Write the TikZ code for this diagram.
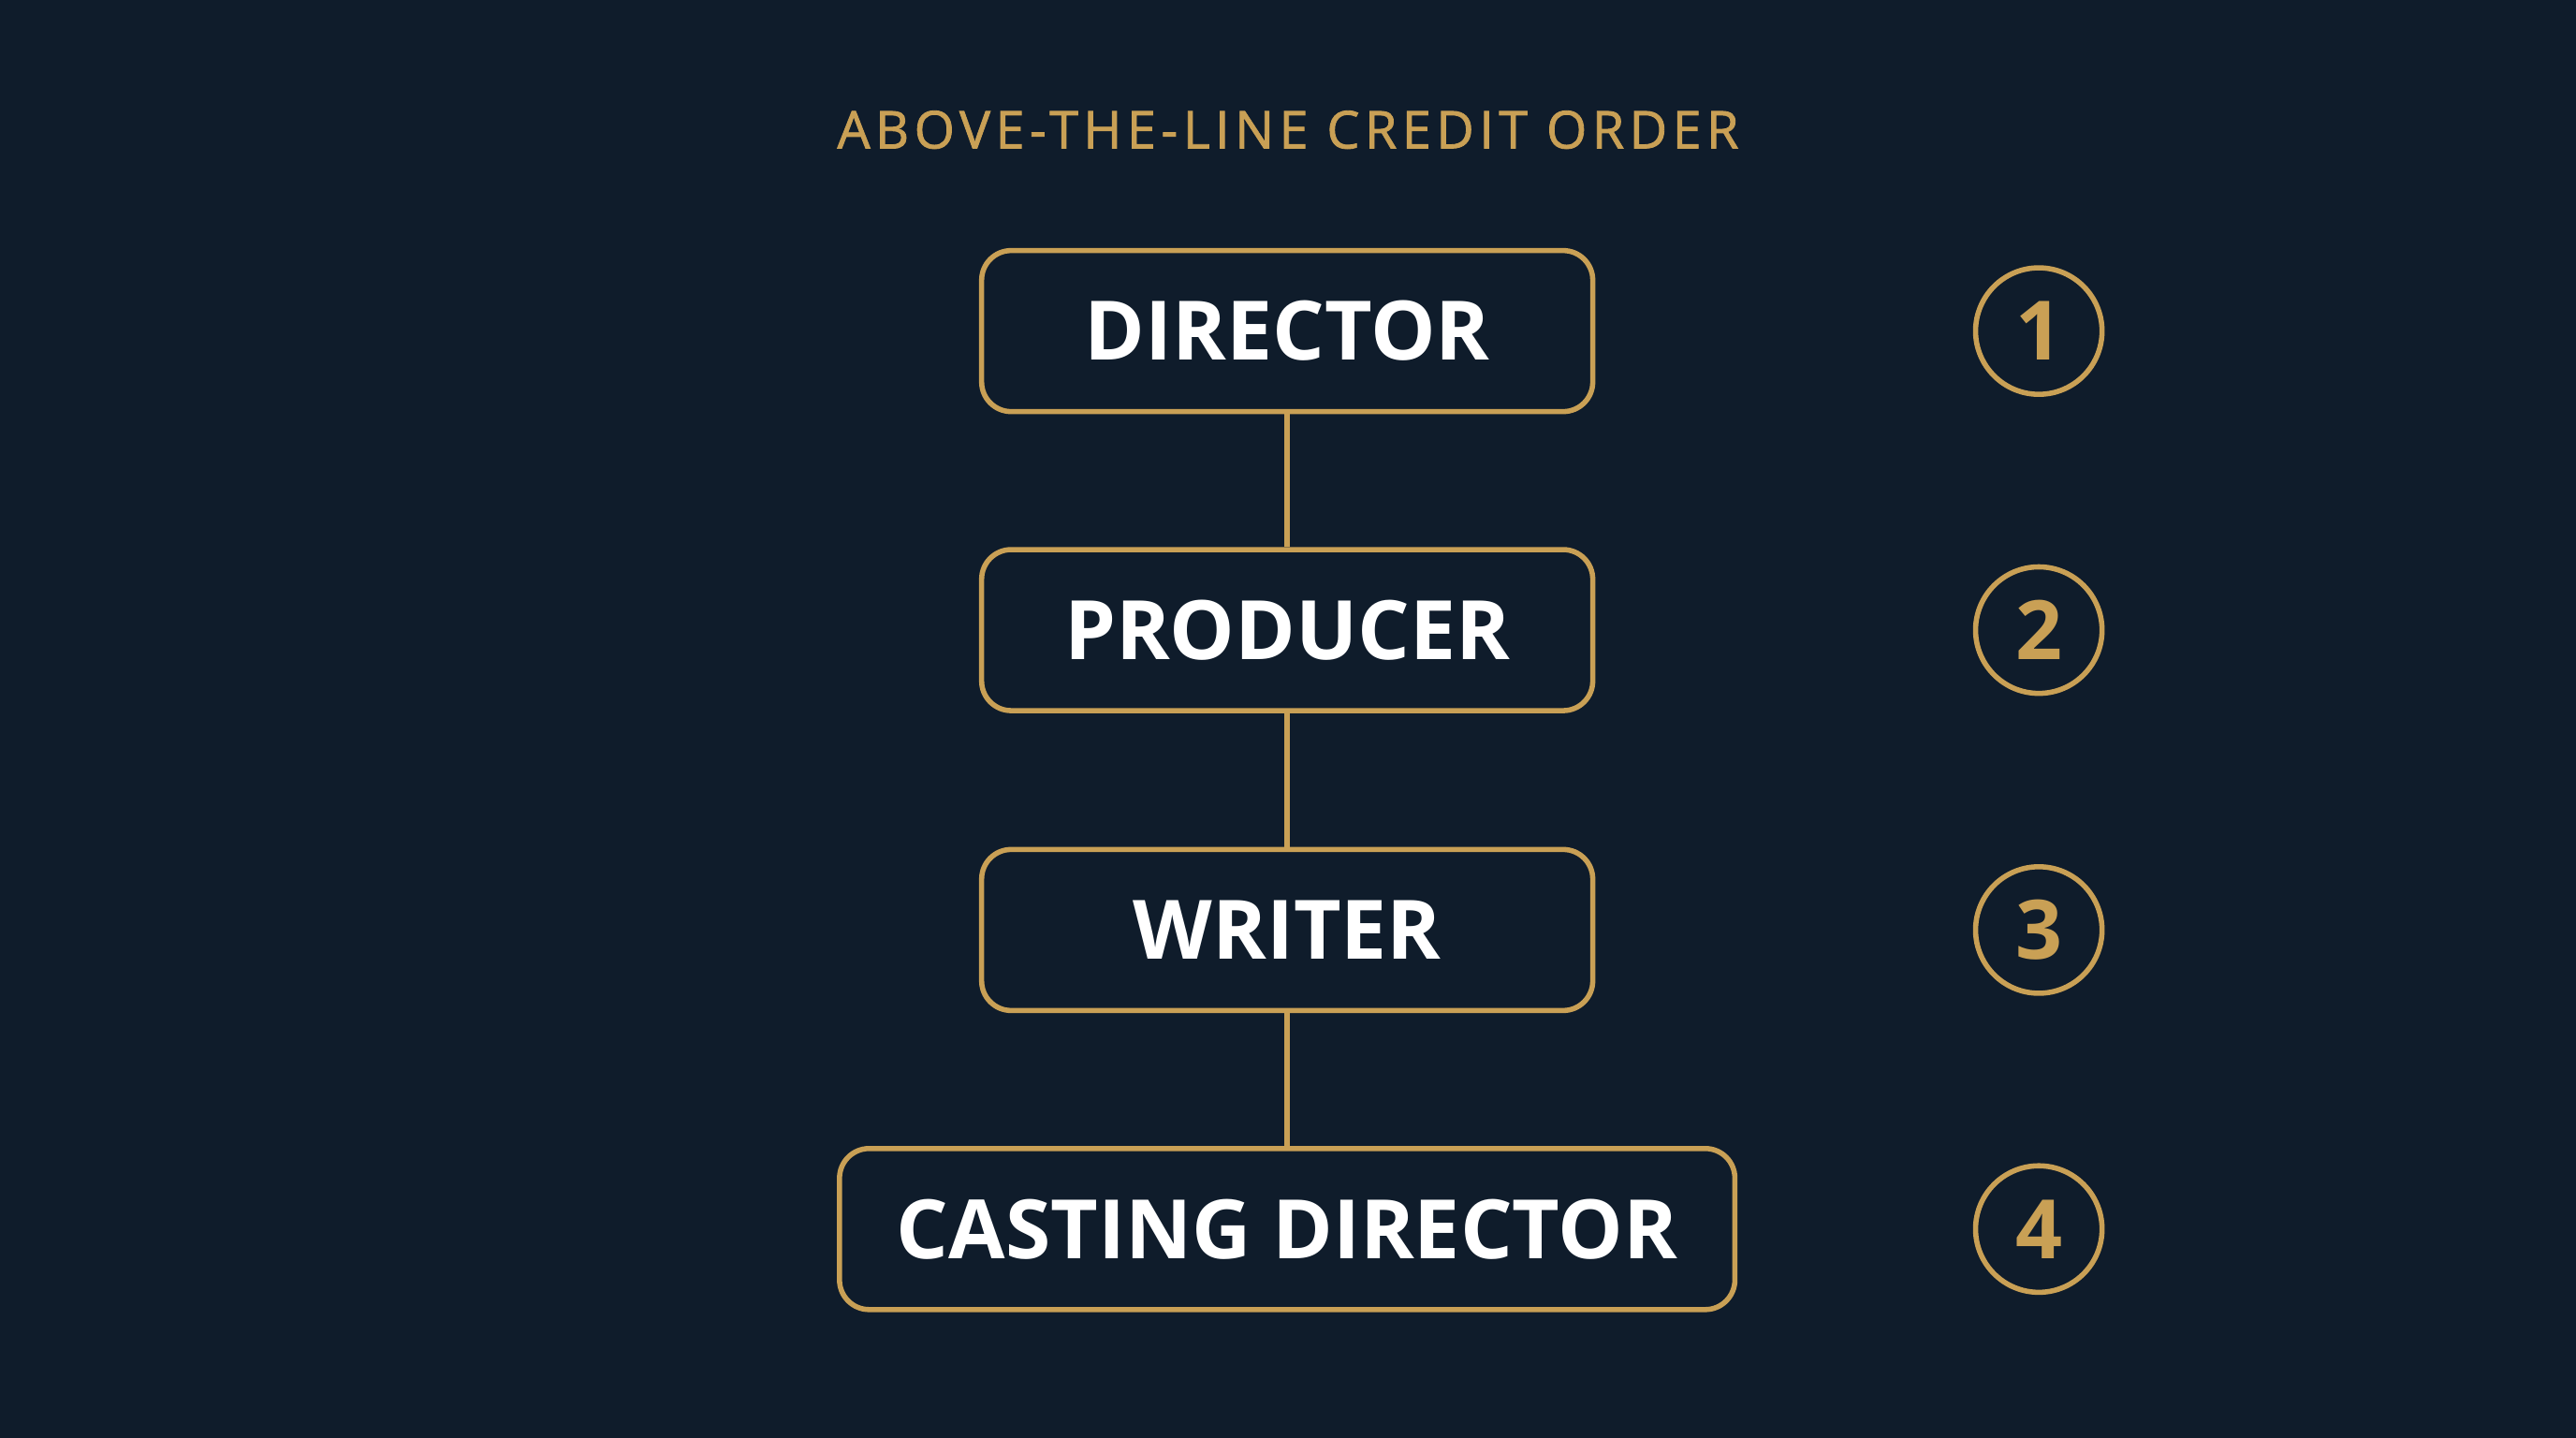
\documentclass[tikz,border=0pt]{standalone}
\usepackage{fontspec}
\setmainfont{Open Sans}
\definecolor{sfondo}{HTML}{0F1C2B}
\definecolor{oro}{HTML}{C9A055}

\begin{document}
\begin{tikzpicture}[line width=0.9pt,
    ruolo/.style={draw=oro, rounded corners=0.18cm, minimum width=3.72cm, minimum height=0.98cm,
        inner sep=0pt, text=white, font=\bfseries\fontsize{14.2}{16}\selectfont},
    numero/.style={draw=oro, circle, minimum size=0.77cm, inner sep=0pt, text=oro,
        font=\bfseries\fontsize{14.2}{16}\selectfont},
    legame/.style={draw=oro}]

    % -- Sfondo e dimensioni del quadro --
    \fill[sfondo] (0,0) rectangle (15.68,8.75);
    \useasboundingbox (0,0) rectangle (15.68,8.75);

    % -- Titolo --
    \node[text=oro, font=\addfontfeature{LetterSpace=10,FakeBold=1.5}\fontsize{9}{10}\selectfont] (titolo) at (7.84,7.96) {ABOVE-THE-LINE CREDIT ORDER};

    % -- Colonna dei ruoli --
    \node[ruolo] (regista) at (7.835,6.735) {DIRECTOR};
    \node[ruolo] (produttore) at (7.835,4.915) {PRODUCER};
    \node[ruolo] (sceneggiatore) at (7.835,3.09) {WRITER};
    \node[ruolo, minimum width=5.45cm] (casting) at (7.835,1.27) {CASTING DIRECTOR};

    % Collegamenti verticali
    \draw[legame] (regista) -- (produttore);
    \draw[legame] (produttore) -- (sceneggiatore);
    \draw[legame] (sceneggiatore) -- (casting);

    % -- Numeri d'ordine a destra --
    \node[numero] (uno) at (12.41,6.735) {1};
    \node[numero] (due) at (12.41,4.915) {2};
    \node[numero] (tre) at (12.41,3.09) {3};
    \node[numero] (quattro) at (12.41,1.27) {4};
\end{tikzpicture}
\end{document}
